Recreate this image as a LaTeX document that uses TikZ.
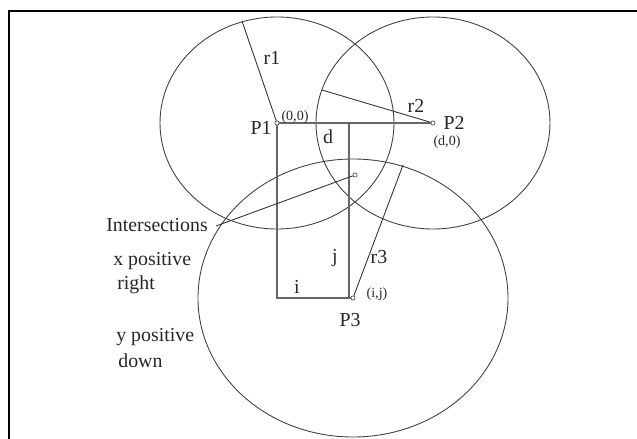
\documentclass[tikz,border=0pt]{standalone}
\usepackage{fontspec}
\setmainfont{Liberation Serif}
\usetikzlibrary{positioning}
\tikzset{
  >=stealth,
}
\begin{document}
\begin{tikzpicture}[
  x=0.02cm,y=-0.02cm,
  every node/.style={font=\fontsize{11.3}{13.5}\selectfont,text=black!85},
  ring/.style={draw=black!75,line width=0.5pt},
  rad/.style={draw=black!80,line width=0.5pt},
  grid/.style={draw=black!60,line width=0.9pt},
  pt/.style={draw=black!70,circle,inner sep=0pt,minimum size=2.4pt,fill=white,line width=0.4pt},
  small/.style={font=\fontsize{8}{9}\selectfont},
  note/.style={anchor=base west,inner sep=0pt}
]
\useasboundingbox (0,0) rectangle (637,439);

% frame
\coordinate (fl) at (9,439);
\coordinate (ft) at (9,11);
\coordinate (fr) at (637,11);
\draw[line width=1.2pt] (fl) -- (ft) -- (fr);

% centres
\node[pt] (P1) at (277,123) {};
\node[pt] (P2) at (433,123) {};
\node[pt] (P3) at (353,298) {};
\node[pt] (X) at (355,175) {};

% circles
\draw[ring] (P1.center) ellipse [x radius=117, y radius=106];
\draw[ring] (P2.center) ellipse [x radius=117, y radius=106];
\draw[ring] (P3.center) ellipse [x radius=155, y radius=139];

% radii
\coordinate (r1e) at (242,21);
\coordinate (r2e) at (322,90);
\coordinate (r3e) at (403,165);
\draw[rad] (P1) -- (r1e);
\draw[rad] (P2) -- (r2e);
\draw[rad] (P3) -- (r3e);

% i, j, d
\coordinate (cnr) at (277,298);
\coordinate (jt) at (349,123);
\coordinate (jb) at (349,298);
\draw[grid] (P1) -- (P2);
\draw[grid] (P1) -- (cnr) -- (P3);
\draw[grid] (jt) -- (jb);

% pointer
\coordinate (itip) at (216,226);
\draw[rad] (itip) -- (X);

% labels
\node (lr1) at (272,58) {r1};
\node (lr2) at (416,106) {r2};
\node (lr3) at (379,257) {r3};
\node (lP1) at (261,128) {P1};
\node (lP2) at (454,123) {P2};
\node (lP3) at (350,320) {P3};
\node[small] (l00) at (295,117) {(0,0)};
\node[small] (ld0) at (447,142) {(d,0)};
\node[small] (lij) at (377,294) {(i,j)};
\node (ld) at (328,137) {d};
\node (li) at (297,287) {i};
\node (lj) at (335,258) {j};

\node[note] (lint) at (106,232) {Intersections};
\node[note] (lx1) at (113,266) {x positive};
\node[note] (lx2) at (117,290) {right};
\node[note] (ly1) at (116,342) {y positive};
\node[note] (ly2) at (118,368) {down};
\end{tikzpicture}
\end{document}
